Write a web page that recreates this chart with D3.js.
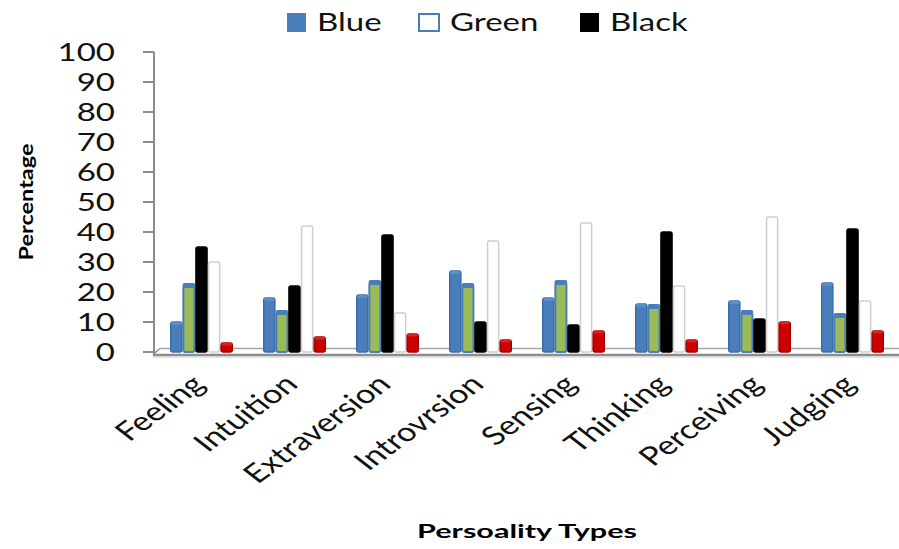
<!DOCTYPE html>
<html><head><meta charset="utf-8">
<script src="https://cdn.jsdelivr.net/npm/d3@7"></script>
<style>body{margin:0;background:#fff}svg{display:block}</style>
</head><body>
<svg id="c" width="899" height="549"></svg>
<script>
const categories = ["Feeling","Intuition","Extraversion","Introvrsion","Sensing","Thinking","Perceiving","Judging"];
const seriesNames = ["Blue","Green","Black","White","Red"];
const blueVals  = [10,18,19,27,18,16,17,23];
const greenVals = [22,13,23,22,23,15,13,12];
const blackVals = [35,22,39,10, 9,40,11,41];
const whiteVals = [30,42,13,37,43,22,45,17];
const redVals   = [ 3, 5, 6, 4, 7, 4,10, 7];
const yTicks = [0,10,20,30,40,50,60,70,80,90,100];
const legendItems = ["Blue","Green","Black"];

const seriesVals = [blueVals, greenVals, blackVals, whiteVals, redVals];
const fills   = ["#4A7EBB","#9BBB59","#000000","#FFFFFF","#CC0000"];
const strokes = ["#3C6CA8","#4A7EBB","#000000","#CFCFCF","#A00000"];
const SX = 1.32;
const FONT = "Lato, 'Open Sans', sans-serif";

const svg = d3.select("#c");
const x = d3.scaleBand().domain(categories).range([155, 899]).paddingInner(0).paddingOuter(0);
const xs = d3.scaleBand().domain(seriesNames).range([15, 78]);
const y = d3.scaleLinear().domain([0,100]).range([352,52]);

// floor
svg.append("line").attr("x1",160).attr("x2",899).attr("y1",348.5).attr("y2",348.5)
  .attr("stroke","#a6a6a6").attr("stroke-width",1.5);
svg.append("line").attr("x1",153).attr("y1",354.5).attr("x2",160).attr("y2",348.5)
  .attr("stroke","#8c8c8c").attr("stroke-width",1.5);

// y axis
const yAxis = svg.append("g");
yAxis.append("line").attr("x1",154).attr("x2",154).attr("y1",y(100)).attr("y2",355)
  .attr("stroke","#8c8c8c").attr("stroke-width",2);
yTicks.forEach(t=>{
  yAxis.append("line").attr("x1",143).attr("x2",154).attr("y1",y(t)).attr("y2",y(t))
    .attr("stroke","#8c8c8c").attr("stroke-width",2);
  yAxis.append("text").text(t)
    .attr("transform",`translate(115,${y(t)+9}) scale(${SX},1)`)
    .attr("text-anchor","end").attr("font-family",FONT).attr("font-size",25).attr("fill","#111");
});

// bars
seriesVals.forEach((vals,si)=>{
  const g = svg.append("g");
  categories.forEach((c,ci)=>{
    const v = vals[ci];
    const bx = x(c)+xs(seriesNames[si]);
    const w = xs.bandwidth();
    const top = y(v), bot = y(0);
    g.append("rect").attr("x",bx+0.75).attr("y",top).attr("width",w-1.5).attr("height",bot-top)
      .attr("rx",2).attr("fill",fills[si]).attr("stroke",strokes[si]).attr("stroke-width",si===1?2:1.5);
    if(si===1){
      g.append("rect").attr("x",bx).attr("y",top-3).attr("width",w).attr("height",5).attr("rx",2)
        .attr("fill","#4A7EBB");
    } else if(si===0){
      g.append("rect").attr("x",bx+1).attr("y",top).attr("width",w-2).attr("height",3).attr("rx",1.5)
        .attr("fill","#5B8FCC");
    } else if(si===4){
      g.append("rect").attr("x",bx+1).attr("y",top).attr("width",w-2).attr("height",2.5).attr("rx",1.5)
        .attr("fill","#E02020");
    }
  });
});

// front floor edge
svg.append("line").attr("x1",153).attr("x2",899).attr("y1",355).attr("y2",355)
  .attr("stroke","#8c8c8c").attr("stroke-width",2.5);
svg.append("line").attr("x1",153).attr("x2",899).attr("y1",357).attr("y2",357)
  .attr("stroke","#d8d8d8").attr("stroke-width",1.5);

// category labels
categories.forEach(c=>{
  svg.append("text").text(c)
    .attr("transform",`translate(${x(c)+x.bandwidth()/2+5},386) scale(${SX},1) rotate(-44)`)
    .attr("text-anchor","end").attr("font-family",FONT).attr("font-size",26).attr("fill","#111");
});

// axis titles
svg.append("text").text("Percentage")
  .attr("transform","translate(33,202) rotate(-90)")
  .attr("text-anchor","middle").attr("font-family",FONT).attr("font-weight","bold")
  .attr("font-size",18).attr("textLength",117).attr("lengthAdjust","spacingAndGlyphs").attr("fill","#000");
svg.append("text").text("Persoality Types")
  .attr("x",527).attr("y",538)
  .attr("text-anchor","middle").attr("font-family",FONT).attr("font-weight","bold")
  .attr("font-size",18).attr("textLength",220).attr("lengthAdjust","spacingAndGlyphs").attr("fill","#000");

// legend
const legX = [287, 418, 580];
const legFill = ["#4A7EBB","#FFFFFF","#000000"];
const legStroke = ["#4A7EBB","#4A7EBB","#000000"];
legendItems.forEach((name,i)=>{
  svg.append("rect").attr("x",legX[i]+1).attr("y",14).attr("width",legX[i]===418?20:17).attr("height",17)
    .attr("fill",legFill[i]).attr("stroke",legStroke[i]).attr("stroke-width",2);
  svg.append("text").text(name)
    .attr("transform",`translate(${legX[i]+(i===1?32:30)},31) scale(${SX},1)`)
    .attr("font-family",FONT).attr("font-size",25).attr("fill","#111");
});
</script>
</body></html>
